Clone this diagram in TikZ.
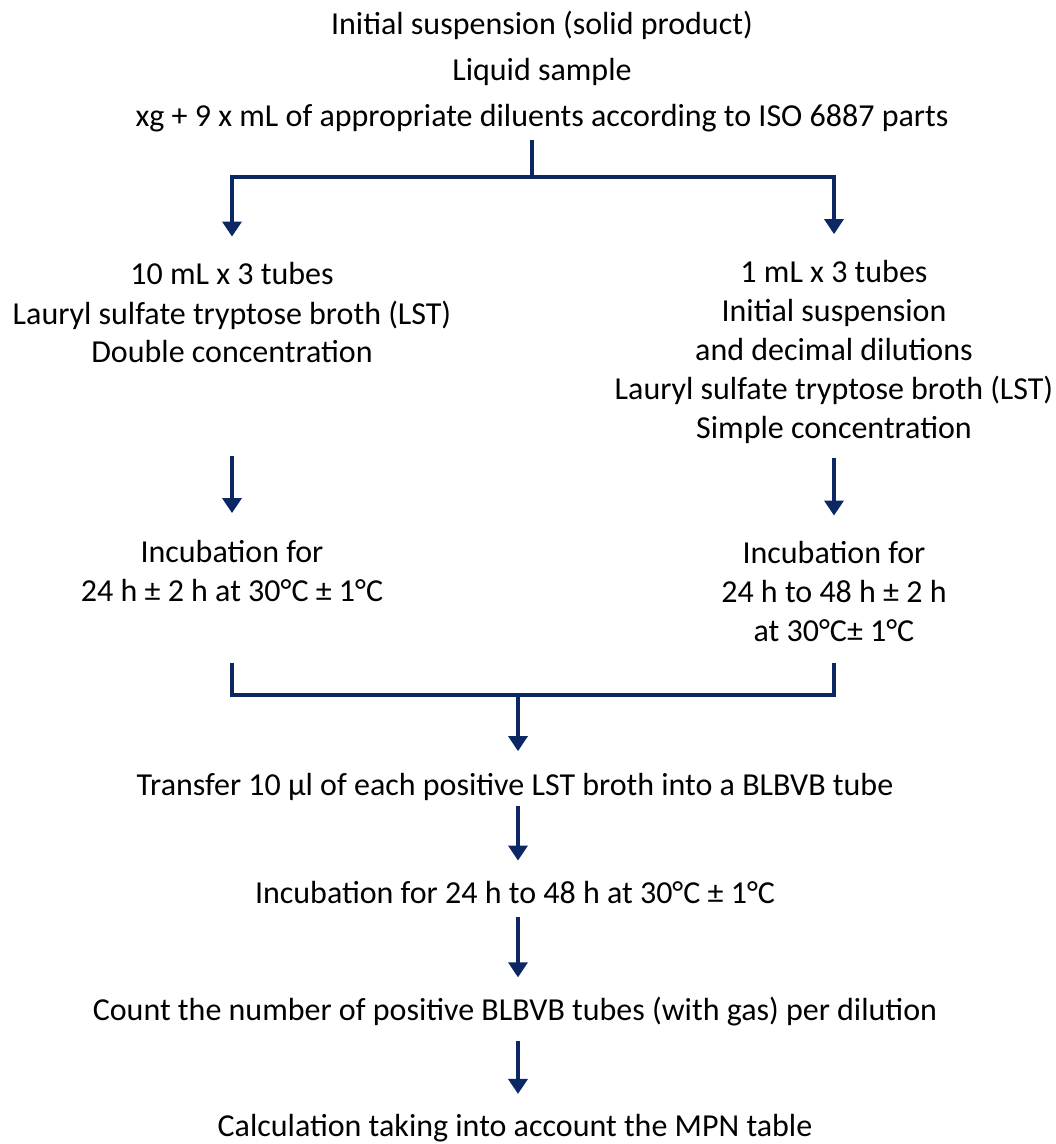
\documentclass[tikz,border=0pt]{standalone}
\usepackage{fontspec}
\setmainfont{Carlito}
\usetikzlibrary{arrows.meta}
\definecolor{navy}{RGB}{12,40,100}
\tikzset{
    txt/.style={align=center, inner sep=0pt, font=\fontsize{32}{39}\selectfont},
    line/.style={navy, line width=3.5pt},
    arr/.style={line, -{Triangle[width=19pt,length=15pt]}}
}
\begin{document}
\begin{tikzpicture}[x=1pt, y=-1pt]
        \useasboundingbox (0,0) rectangle (1056,1144);
        % Initial suspension
        \node[txt, font=\fontsize{32}{46}\selectfont] (top) at (542,72) {Initial suspension (solid product)\\Liquid sample\\xg + 9 x mL of appropriate diluents according to ISO 6887 parts};
        
        % The two inoculations
        \node[txt] (left1) at (232,313) {10 mL x 3 tubes\\Lauryl sulfate tryptose broth (LST)\\Double concentration};
        \node[txt] (right1) at (834,352) {1 mL x 3 tubes\\Initial suspension\\and decimal dilutions\\Lauryl sulfate tryptose broth (LST)\\Simple concentration};
        
        % First incubation
        \node[txt] (left2) at (232,571) {Incubation for\\24 h ± 2 h at 30°C ± 1°C};
        \node[txt] (right2) at (834,591) {Incubation for\\24 h to 48 h ± 2 h\\at 30°C± 1°C};
        
        % Confirmation steps
        \node[txt] (transfer) at (515,787) {Transfer 10 µl of each positive LST broth into a BLBVB tube};
        \node[txt] (incub) at (515,892) {Incubation for 24 h to 48 h at 30°C ± 1°C};
        \node[txt] (count) at (515,1012) {Count the number of positive BLBVB tubes (with gas) per dilution};
        \node[txt] (calc) at (515,1128) {Calculation taking into account the MPN table};
        
        % Split and join
        \coordinate (split) at (532,177);
        \coordinate (join) at (518,695);
        \draw[line, shorten <=7pt] (top.south -| split) -- (split);
        \draw[arr] (split) -| ([yshift=26pt]left1.north);
        \draw[arr] (split) -| ([yshift=26pt]right1.north);
        
        \draw[arr] ([yshift=-12pt]right1.south -| left1) -- ([yshift=27pt]left2.north);
        \draw[arr] ([yshift=-14pt]right1.south) -- ([yshift=25pt]right2.north);
        
        \draw[line] ([yshift=-22pt]right2.south -| left2) |- (join) -| ([yshift=-22pt]right2.south);
        \draw[arr] (join) -- ([yshift=22pt]transfer.north -| join);
        
        % Steps below
        \draw[arr] ([yshift=-5pt]transfer.south -| join) -- ([yshift=20pt]incub.north -| join);
        \draw[arr] ([yshift=-14pt]incub.south -| join) -- ([yshift=20pt]count.north -| join);
        \draw[arr] ([yshift=-14pt]count.south -| join) -- ([yshift=20pt]calc.north -| join);
\end{tikzpicture}
\end{document}
